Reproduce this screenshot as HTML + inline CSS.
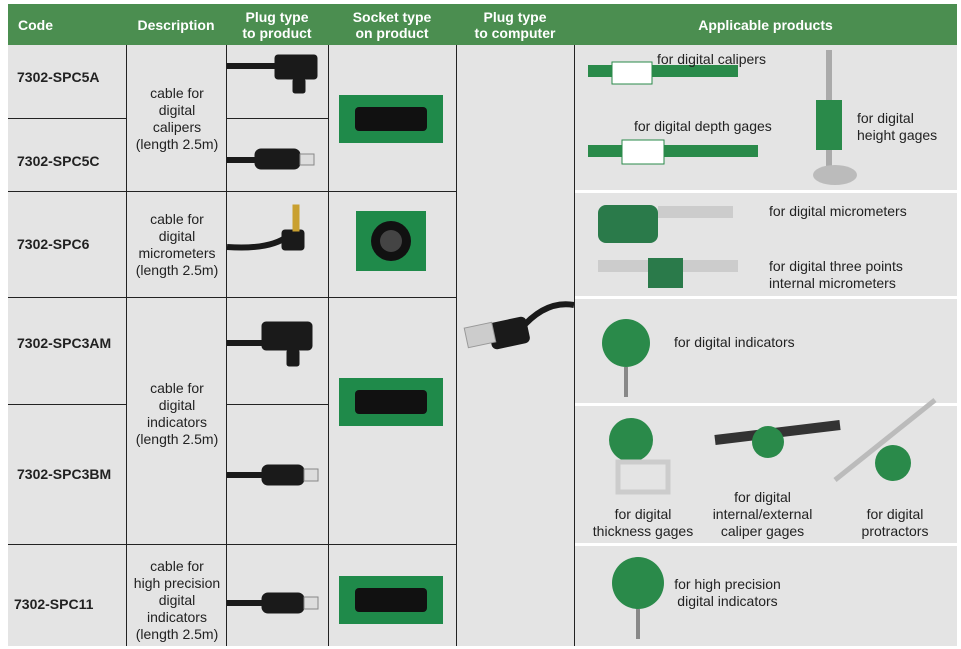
<!DOCTYPE html>
<html><head><style>
body{margin:0;width:961px;height:649px;background:#fff;position:relative;overflow:hidden;font-family:"Liberation Sans",Arial,sans-serif}
.c{position:absolute;background:#e4e4e4;box-sizing:border-box}
.h{position:absolute;background:#4b8e50;color:#fff;font-weight:bold;font-size:14px;text-align:center;line-height:16px;display:flex;align-items:center;justify-content:center}
.t{position:absolute;font-size:14px;color:#222}
.b{font-weight:bold}
.ln{position:absolute;background:#222}
.ctr{text-align:center;line-height:17px}
</style></head><body>
<div class="h" style="left:8px;top:4px;width:949px;height:41px"></div>
<div class="h" style="left:8px;top:4px;width:118px;height:41px;justify-content:flex-start;padding-left:10px;box-sizing:border-box">Code</div>
<div class="h" style="left:126px;top:4px;width:100px;height:41px">Description</div>
<div class="h" style="left:226px;top:4px;width:102px;height:41px">Plug type<br>to product</div>
<div class="h" style="left:328px;top:4px;width:128px;height:41px">Socket type<br>on product</div>
<div class="h" style="left:456px;top:4px;width:118px;height:41px;align-items:flex-start;padding-top:5px;box-sizing:border-box">Plug type<br>to computer</div>
<div class="h" style="left:574px;top:4px;width:383px;height:41px">Applicable products</div>
<div class="c" style="left:8px;top:45px;width:949px;height:601px"></div>
<!-- lines -->
<div class="ln" style="left:126px;top:45px;width:1px;height:601px"></div>
<div class="ln" style="left:226px;top:45px;width:1px;height:601px"></div>
<div class="ln" style="left:328px;top:45px;width:1px;height:601px"></div>
<div class="ln" style="left:456px;top:45px;width:1px;height:601px"></div>
<div class="ln" style="left:574px;top:45px;width:1px;height:601px"></div>
<div class="ln" style="left:8px;top:118px;width:118px;height:1px"></div>
<div class="ln" style="left:226px;top:118px;width:102px;height:1px"></div>
<div class="ln" style="left:8px;top:191px;width:448px;height:1px"></div>
<div class="ln" style="left:8px;top:297px;width:448px;height:1px"></div>
<div class="ln" style="left:8px;top:404px;width:118px;height:1px"></div>
<div class="ln" style="left:226px;top:404px;width:102px;height:1px"></div>
<div class="ln" style="left:8px;top:544px;width:448px;height:1px"></div>
<div style="position:absolute;left:575px;top:190px;width:382px;height:3px;background:#fff"></div>
<div style="position:absolute;left:575px;top:296px;width:382px;height:3px;background:#fff"></div>
<div style="position:absolute;left:575px;top:403px;width:382px;height:3px;background:#fff"></div>
<div style="position:absolute;left:575px;top:543px;width:382px;height:3px;background:#fff"></div>
<!-- codes -->
<div class="t b" style="left:17px;top:69px">7302-SPC5A</div>
<div class="t b" style="left:17px;top:153px">7302-SPC5C</div>
<div class="t b" style="left:17px;top:236px">7302-SPC6</div>
<div class="t b" style="left:17px;top:335px">7302-SPC3AM</div>
<div class="t b" style="left:17px;top:466px">7302-SPC3BM</div>
<div class="t b" style="left:14px;top:596px">7302-SPC11</div>
<!-- descriptions -->
<div class="t ctr" style="left:127px;top:85px;width:100px">cable for<br>digital<br>calipers<br>(length 2.5m)</div>
<div class="t ctr" style="left:127px;top:211px;width:100px">cable for<br>digital<br>micrometers<br>(length 2.5m)</div>
<div class="t ctr" style="left:127px;top:380px;width:100px">cable for<br>digital<br>indicators<br>(length 2.5m)</div>
<div class="t ctr" style="left:127px;top:558px;width:100px">cable for<br>high precision<br>digital<br>indicators<br>(length 2.5m)</div>
<svg style="position:absolute;left:0;top:0" width="961" height="649">
<!-- plugs -->
<g fill="#1a1a1a" stroke="#1a1a1a">
<path d="M227 66 H275" stroke-width="6" fill="none"/><rect x="275" y="55" width="42" height="24" rx="3"/><rect x="293" y="79" width="12" height="14" rx="2"/>
<path d="M227 160 H255" stroke-width="6" fill="none"/><rect x="255" y="149" width="45" height="20" rx="6"/><rect x="300" y="154" width="14" height="11" fill="#ddd" stroke="#888"/>
<path d="M227 247 Q270 250 288 236" stroke-width="6" fill="none"/><rect x="282" y="230" width="22" height="20" rx="3"/><rect x="293" y="205" width="6" height="26" fill="#c9a030" stroke="#c9a030"/>
<path d="M227 343 H262" stroke-width="6" fill="none"/><rect x="262" y="322" width="50" height="28" rx="4"/><rect x="287" y="350" width="12" height="16" rx="2"/>
<path d="M227 475 H262" stroke-width="6" fill="none"/><rect x="262" y="465" width="42" height="20" rx="6"/><rect x="304" y="469" width="14" height="12" fill="#ddd" stroke="#888"/>
<path d="M227 603 H262" stroke-width="6" fill="none"/><rect x="262" y="593" width="42" height="20" rx="6"/><rect x="304" y="597" width="14" height="12" fill="#ddd" stroke="#888"/>
<path d="M520 330 Q545 300 574 305" stroke-width="6" fill="none"/><rect x="490" y="320" width="38" height="26" rx="5" transform="rotate(-12 509 333)"/><rect x="466" y="325" width="28" height="20" fill="#ccc" stroke="#999" transform="rotate(-12 480 335)"/>
</g>
<!-- sockets -->
<g>
<rect x="339" y="95" width="104" height="48" fill="#1f8a4a"/><rect x="355" y="107" width="72" height="24" rx="4" fill="#111"/>
<rect x="356" y="211" width="70" height="60" fill="#1f8a4a"/><circle cx="391" cy="241" r="20" fill="#111"/><circle cx="391" cy="241" r="11" fill="#444"/>
<rect x="339" y="378" width="104" height="48" fill="#1f8a4a"/><rect x="355" y="390" width="72" height="24" rx="4" fill="#111"/>
<rect x="339" y="576" width="104" height="48" fill="#1f8a4a"/><rect x="355" y="588" width="72" height="24" rx="4" fill="#111"/>
</g>
<!-- products -->
<g>
<rect x="588" y="65" width="150" height="12" fill="#2a8a4a"/><rect x="612" y="62" width="40" height="22" fill="#fff" stroke="#2a8a4a"/>
<rect x="588" y="145" width="170" height="12" fill="#2a8a4a"/><rect x="622" y="140" width="42" height="24" fill="#fff" stroke="#2a8a4a"/>
<rect x="826" y="50" width="6" height="130" fill="#aaa"/><rect x="816" y="100" width="26" height="50" fill="#2a8a4a"/><ellipse cx="835" cy="175" rx="22" ry="10" fill="#bbb"/>
<rect x="598" y="205" width="60" height="38" rx="8" fill="#2a7a4a"/><rect x="658" y="206" width="75" height="12" fill="#ccc"/>
<rect x="598" y="260" width="60" height="12" fill="#ccc"/><rect x="648" y="258" width="35" height="30" fill="#2a7a4a"/><rect x="683" y="260" width="55" height="12" fill="#ccc"/>
<circle cx="626" cy="343" r="24" fill="#2a8a4a"/><rect x="624" y="367" width="4" height="30" fill="#888"/>
<circle cx="631" cy="440" r="22" fill="#2a8a4a"/><rect x="618" y="462" width="50" height="30" fill="none" stroke="#ccc" stroke-width="5"/>
<path d="M715 440 L840 425" stroke="#333" stroke-width="10"/><circle cx="768" cy="442" r="16" fill="#2a8a4a"/>
<path d="M835 480 L935 400" stroke="#bbb" stroke-width="5"/><circle cx="893" cy="463" r="18" fill="#2a8a4a"/>
<circle cx="638" cy="583" r="26" fill="#2a8a4a"/><rect x="636" y="609" width="4" height="30" fill="#888"/>
</g>
</svg>
<div class="t" style="left:657px;top:51px">for digital calipers</div>
<div class="t" style="left:857px;top:110px;line-height:17px">for digital<br>height gages</div>
<div class="t" style="left:634px;top:118px">for digital depth gages</div>
<div class="t" style="left:769px;top:203px">for digital micrometers</div>
<div class="t" style="left:769px;top:258px;line-height:17px">for digital three points<br>internal micrometers</div>
<div class="t" style="left:674px;top:334px">for digital indicators</div>
<div class="t ctr" style="left:583px;top:506px;width:120px">for digital<br>thickness gages</div>
<div class="t ctr" style="left:700px;top:489px;width:125px">for digital<br>internal/external<br>caliper gages</div>
<div class="t ctr" style="left:835px;top:506px;width:120px">for digital<br>protractors</div>
<div class="t ctr" style="left:665px;top:576px;width:125px">for high precision<br>digital indicators</div>
</body></html>
